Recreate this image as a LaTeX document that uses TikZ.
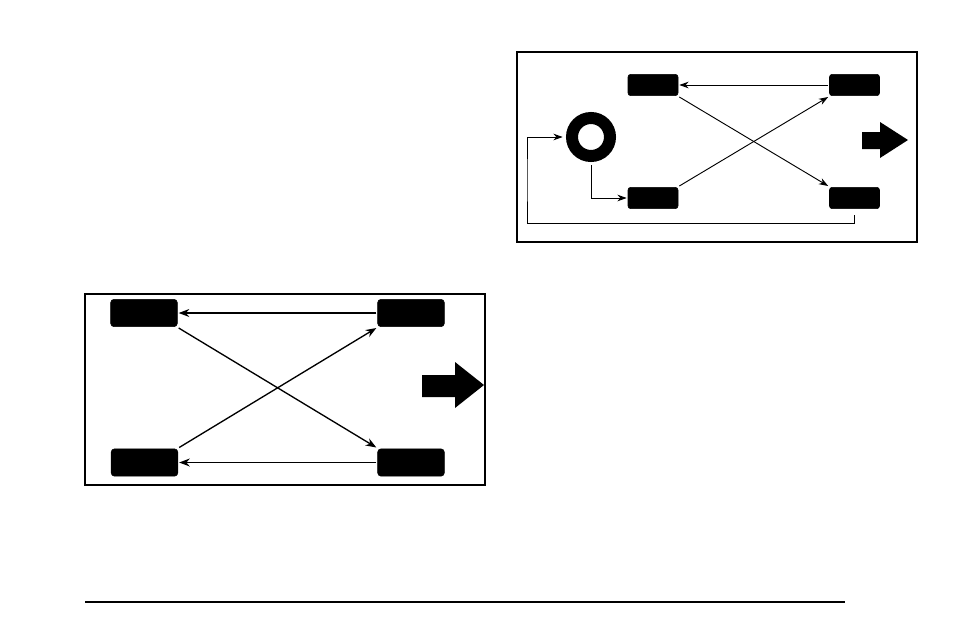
\documentclass[tikz,border=0pt]{standalone}
\usetikzlibrary{arrows.meta}
\begin{document}
\begin{tikzpicture}[x=0.75pt,y=-0.75pt,
  tire/.style={fill=black,draw=black,rounded corners=2.5pt,inner sep=0pt,outer sep=1pt,minimum width=50pt,minimum height=20.5pt},
  stire/.style={fill=black,draw=black,rounded corners=2pt,inner sep=0pt,outer sep=1pt,minimum width=37.5pt,minimum height=16pt},
  frame/.style={draw=black,line width=0.9pt},
  mv/.style={-{Stealth[length=8pt,width=6pt]},line width=1pt},
  mvs/.style={-{Stealth[length=7pt,width=5pt]},line width=0.7pt}]
\useasboundingbox (0,0) rectangle (954,636);
% left diagram
\draw[frame] (85,294) rectangle (485,485);
\node[tire] (TL) at (144,313) {};
\node[tire] (TR) at (411,313) {};
\node[tire] (BL) at (144.5,462.5) {};
\node[tire] (BR) at (411,462.5) {};
\draw[mv] (TR.west) -- (TL.east);
\draw[mv] (BR.west) -- (BL.east);
\draw[mv] (TL.south east) -- (BR.north west);
\draw[mv] (BL.north east) -- (TR.south west);
\fill (422,375) -- (455,375) -- (455,362) -- (484,385) -- (455,408) -- (455,397) -- (422,397) -- cycle;
% right diagram
\draw[frame] (517,52) rectangle (917,242);
\node[stire] (rTL) at (653,85) {};
\node[stire] (rTR) at (854.5,85) {};
\node[stire] (rBL) at (653,198) {};
\node[stire] (rBR) at (854.5,198) {};
\node[circle,draw=black,line width=9pt,minimum size=28.5pt,inner sep=0pt,outer sep=7pt] (SP) at (591,137) {};
\draw[mvs] (rTR.west) -- (rTL.east);
\draw[mvs] (rTL.south east) -- (rBR.north west);
\draw[mvs] (rBL.north east) -- (rTR.south west);
\draw[mvs] (SP.south) |- (rBL.west);
\draw[mvs] ([yshift=-4pt]rBR.south) -- ++(0,8) -| (527,180) |- (SP.west);
\fill (862,132) -- (880,132) -- (880,122) -- (908,140) -- (880,158) -- (880,149) -- (862,149) -- cycle;
% footer rule
\draw[line width=1.8pt] (85,602) -- (845,602);
\end{tikzpicture}
\end{document}
